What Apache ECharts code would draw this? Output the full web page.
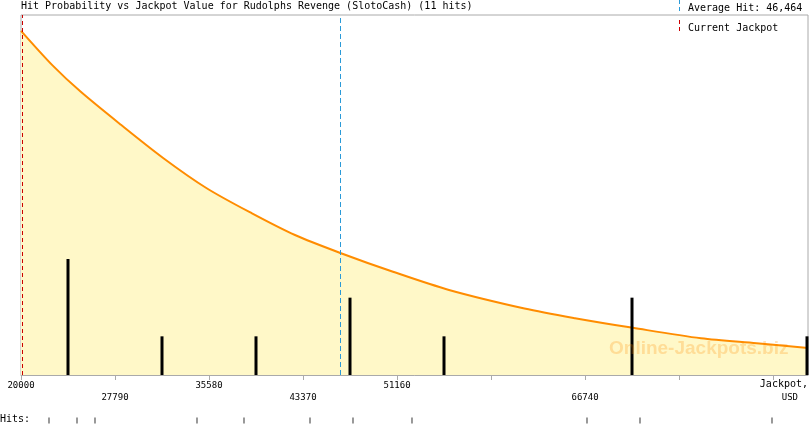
<!DOCTYPE html>
<html><head><meta charset="utf-8">
<script src="https://cdn.jsdelivr.net/npm/echarts@6/dist/echarts.min.js"></script>
<style>html,body{margin:0;padding:0;background:#fff}#c{width:810px;height:425px}</style>
</head><body><div id="c"></div>
<script>
// ---- data ----
const TITLE = 'Hit Probability vs Jackpot Value for Rudolphs Revenge (SlotoCash) (11 hits)';
const X_MIN = 20000, X_MAX = 85220;
const TICK_VALUES = [20000, 27790, 35580, 43370, 51160, 58950, 66740, 74530, 82320];
const LABELS_UPPER = [20000, 35580, 51160];
const LABELS_LOWER = [27790, 43370, 66740];
// probability curve (in "hits" scale of the chart)
const CURVE_X = [20000, 22635, 24931, 28287, 31834, 35389, 39143, 42706, 46518, 50828, 55468, 61725, 65910, 70716, 76352, 80959, 85220];
const CURVE_Y = [8.90, 8.00, 7.33, 6.47, 5.60, 4.83, 4.18, 3.62, 3.15, 2.67, 2.20, 1.72, 1.47, 1.22, 0.95, 0.82, 0.70];
// histogram bars
const BAR_X = [23895, 31685, 39475, 47265, 55055, 70635, 85137];
const BAR_HITS = [3, 1, 1, 2, 1, 2, 1];
// individual hits
const HIT_VALUES = [22320, 24641, 26132, 34585, 38480, 43950, 47513, 52402, 66905, 71297, 82236];
const AVERAGE_HIT = 46464;
const CURRENT_JACKPOT = 20080;
const Y_MAX = 9.31;

const MONO = 'DejaVu Sans Mono';
const chart = echarts.init(document.getElementById('c'), null, {renderer: 'canvas'});
chart.setOption({
  animation: false,
  title: {text: TITLE, left: 21, top: 1, padding: 0, textStyle: {fontFamily: MONO, fontSize: 10, fontWeight: 'normal', color: '#000'}},
  grid: [
    {left: 21, right: 2, top: 15, bottom: 50, show: true, borderColor: '#aaa', borderWidth: 1, backgroundColor: 'transparent'},
    {left: 21, right: 2, top: 416, height: 9}
  ],
  xAxis: [
    {type: 'value', min: X_MIN, max: X_MAX, gridIndex: 0,
     axisLine: {lineStyle: {color: '#aaa'}},
     axisTick: {show: true, length: 5, lineStyle: {color: '#aaa'}, customValues: TICK_VALUES},
     splitLine: {show: false},
     axisLabel: {customValues: LABELS_UPPER.concat(LABELS_LOWER), fontFamily: MONO, fontSize: 9, color: '#000', margin: 5, lineHeight: 12,
       formatter: v => LABELS_LOWER.indexOf(v) >= 0 ? '\n' + v : String(v)}},
    {type: 'value', min: X_MIN, max: X_MAX, gridIndex: 1, show: false}
  ],
  yAxis: [
    {type: 'value', min: 0, max: Y_MAX, gridIndex: 0, show: false},
    {type: 'value', min: 0, max: 1, gridIndex: 1, show: false}
  ],
  series: [
    {type: 'line', data: CURVE_X.map((x, i) => [x, CURVE_Y[i]]), smooth: 0.3, symbol: 'none',
     lineStyle: {color: '#ff8c00', width: 2}, areaStyle: {color: '#fff8c8', opacity: 1}, z: 2,
     markLine: {silent: true, symbol: 'none', label: {show: false},
       data: [
         {xAxis: CURRENT_JACKPOT, lineStyle: {color: '#cc0000', type: [4, 3], width: 1}},
         {xAxis: AVERAGE_HIT, lineStyle: {color: '#2a9ad8', type: [5, 3], width: 1}}
       ]}},
    {type: 'bar', data: BAR_X.map((x, i) => [x, BAR_HITS[i]]), barWidth: 3, itemStyle: {color: '#000'}, z: 4},
    {type: 'scatter', xAxisIndex: 1, yAxisIndex: 1, data: HIT_VALUES.map(v => [v, 0.5]), symbol: 'rect', symbolSize: [1, 6], itemStyle: {color: '#000'}}
  ],
  graphic: [
    {type: 'line', shape: {x1: 679.5, y1: 0, x2: 679.5, y2: 11}, style: {stroke: '#2a9ad8', lineWidth: 1, lineDash: [4, 3]}},
    {type: 'text', left: 688, top: 3, style: {text: 'Average Hit: ' + AVERAGE_HIT.toLocaleString('en-US'), fontFamily: MONO, fontSize: 10, fill: '#000'}},
    {type: 'line', shape: {x1: 679.5, y1: 20, x2: 679.5, y2: 33}, style: {stroke: '#cc0000', lineWidth: 1, lineDash: [4, 3]}},
    {type: 'text', left: 688, top: 23, style: {text: 'Current Jackpot', fontFamily: MONO, fontSize: 10, fill: '#000'}},
    {type: 'text', right: 2, top: 379, style: {text: 'Jackpot,', fontFamily: MONO, fontSize: 10, fill: '#000'}},
    {type: 'text', right: 12, top: 393, style: {text: 'USD', fontFamily: MONO, fontSize: 9, fill: '#000'}},
    {type: 'text', left: 0, top: 414, style: {text: 'Hits:', fontFamily: MONO, fontSize: 10, fill: '#000'}},
    {type: 'text', left: 609, top: 339, z: 10, style: {text: 'Online-Jackpots.biz', fontFamily: 'Liberation Sans', fontWeight: 'bold', fontSize: 19, fill: 'rgba(255,140,0,0.25)'}}
  ]
});
</script></body></html>
